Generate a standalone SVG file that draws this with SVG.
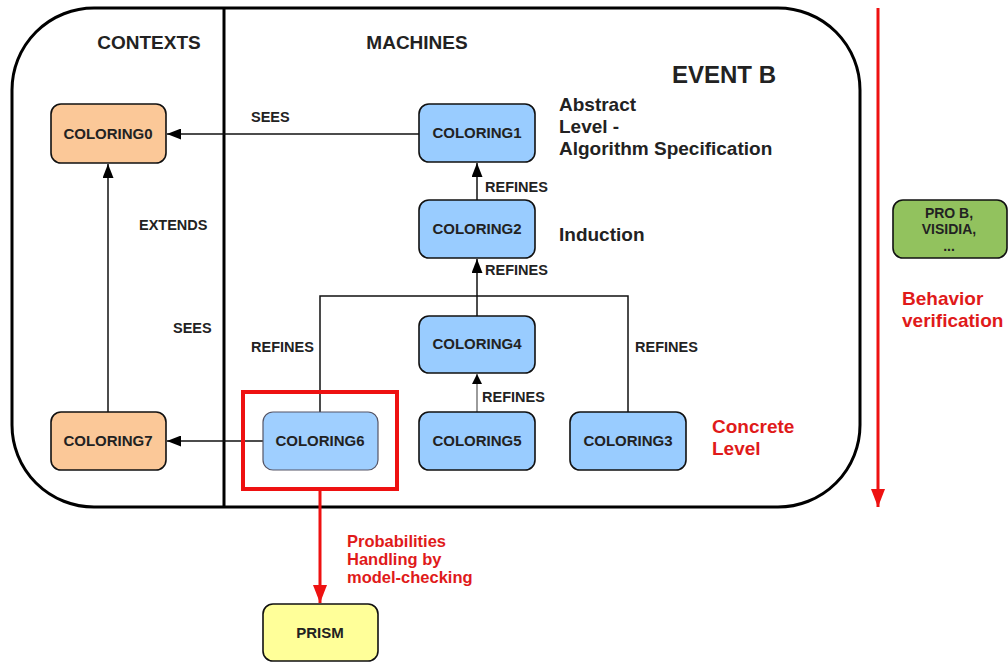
<svg xmlns="http://www.w3.org/2000/svg" width="1008" height="662" viewBox="0 0 1008 662">
<defs>
<marker id="ah" viewBox="0 0 10 10" refX="10" refY="5" markerWidth="10" markerHeight="10" markerUnits="userSpaceOnUse" orient="auto"><path d="M0,0 L10,5 L0,10 z" fill="#000"/></marker>
<marker id="ahb" viewBox="0 0 14 11" refX="14" refY="5.5" markerWidth="14" markerHeight="11" markerUnits="userSpaceOnUse" orient="auto"><path d="M0,0 L14,5.5 L0,11 z" fill="#000"/></marker>
<marker id="ahr" viewBox="0 0 18 14" refX="18" refY="7" markerWidth="18" markerHeight="14" markerUnits="userSpaceOnUse" orient="auto"><path d="M0,0 L18,7 L0,14 z" fill="#EE1111"/></marker>
</defs>
<style>
text{font-family:"Liberation Sans",Arial,sans-serif;font-weight:bold;fill:#222}
.n{font-size:15px;text-anchor:middle}
.l{font-size:14.5px}
.h{font-size:19px}
.r{fill:#E01A1A}
.box{stroke:#111;stroke-width:1.6}
.ctx{fill:#FBC898}
.mac{fill:#99CCFF}
.c{stroke:#111;stroke-width:1.5;fill:none}
</style>
<rect x="0" y="0" width="1008" height="662" fill="#fff"/>
<g id="frame">
<rect x="12" y="8" width="848" height="499" rx="82" ry="82" fill="none" stroke="#000" stroke-width="3"/>
<line x1="224" y1="8" x2="224" y2="507" stroke="#000" stroke-width="3"/>
<text x="149" y="49" class="h" text-anchor="middle">CONTEXTS</text>
<text x="417" y="49" class="h" text-anchor="middle">MACHINES</text>
<text x="672" y="83" style="font-size:24px">EVENT B</text>
<text x="559" y="111" class="h">Abstract</text>
<text x="559" y="133" class="h">Level -</text>
<text x="559" y="155" class="h">Algorithm Specification</text>
<text x="559" y="241" class="h">Induction</text>
<text x="712" y="433" class="h r">Concrete</text>
<text x="712" y="455" class="h r">Level</text>
</g>
<g id="connectors">
<line x1="419" y1="134" x2="167" y2="134" class="c" marker-end="url(#ahb)"/>
<text x="251" y="122" class="l">SEES</text>
<line x1="108" y1="412" x2="108" y2="164" class="c" marker-end="url(#ahb)"/>
<text x="139" y="230" class="l">EXTENDS</text>
<line x1="263" y1="441" x2="167" y2="441" class="c" marker-end="url(#ahb)"/>
<text x="173" y="333" class="l">SEES</text>
<line x1="477" y1="200" x2="477" y2="163" class="c" marker-end="url(#ahb)"/>
<text x="485" y="192" class="l">REFINES</text>
<polyline points="320,412 320,296 628,296 628,412" class="c"/>
<line x1="477" y1="316" x2="477" y2="259" class="c" stroke-width="2" marker-end="url(#ahb)"/>
<text x="485" y="275" class="l">REFINES</text>
<text x="251" y="352" class="l">REFINES</text>
<text x="635" y="352" class="l">REFINES</text>
<line x1="477" y1="412" x2="477" y2="374" stroke="#666" stroke-width="1.3" marker-end="url(#ah)"/>
<text x="482" y="402" class="l">REFINES</text>
<line x1="320" y1="489" x2="320" y2="603" stroke="#EE1111" stroke-width="3" marker-end="url(#ahr)"/>
<text x="347" y="547" style="font-size:16.5px" class="r">Probabilities</text>
<text x="347" y="565" style="font-size:16.5px" class="r">Handling by</text>
<text x="347" y="583" style="font-size:16.5px" class="r">model-checking</text>
<line x1="878" y1="8" x2="878" y2="507" stroke="#EE1111" stroke-width="3" marker-end="url(#ahr)"/>
<text x="902" y="305" class="h r">Behavior</text>
<text x="902" y="327" class="h r">verification</text>
</g>
<g id="COLORING0"><rect x="51" y="104" width="115" height="59" rx="10" class="box ctx"/><text x="108" y="139" class="n">COLORING0</text></g>
<g id="COLORING7"><rect x="51" y="412" width="115" height="58" rx="10" class="box ctx"/><text x="108" y="446" class="n">COLORING7</text></g>
<g id="COLORING1"><rect x="419" y="104" width="116" height="58" rx="10" class="box mac"/><text x="477" y="138" class="n">COLORING1</text></g>
<g id="COLORING2"><rect x="419" y="200" width="116" height="58" rx="10" class="box mac"/><text x="477" y="234" class="n">COLORING2</text></g>
<g id="COLORING4"><rect x="419" y="316" width="116" height="57" rx="10" class="box mac"/><text x="477" y="349" class="n">COLORING4</text></g>
<g id="COLORING5"><rect x="419" y="412" width="116" height="58" rx="10" class="box mac"/><text x="477" y="446" class="n">COLORING5</text></g>
<g id="COLORING3"><rect x="570" y="412" width="116" height="58" rx="10" class="box mac"/><text x="628" y="446" class="n">COLORING3</text></g>
<g id="COLORING6"><rect x="263" y="412" width="115" height="58" rx="10" fill="#9FCFFF" stroke="#556" stroke-width="1.2"/><text x="320" y="446" class="n">COLORING6</text></g>
<g id="highlight"><rect x="243" y="392" width="154" height="97" fill="none" stroke="#EE1111" stroke-width="4"/></g>
<g id="PRISM"><rect x="263" y="604" width="115" height="57" rx="10" fill="#FFFF99" class="box"/><text x="320" y="638" class="n">PRISM</text></g>
<g id="PROB"><rect x="893" y="200" width="114" height="58" rx="10" fill="#92C25E" class="box"/><text x="949" y="218" class="n" style="font-size:14px">PRO B,</text><text x="949" y="234" class="n" style="font-size:14px">VISIDIA,</text><text x="949" y="251" class="n" style="font-size:14px">...</text></g>
</svg>
